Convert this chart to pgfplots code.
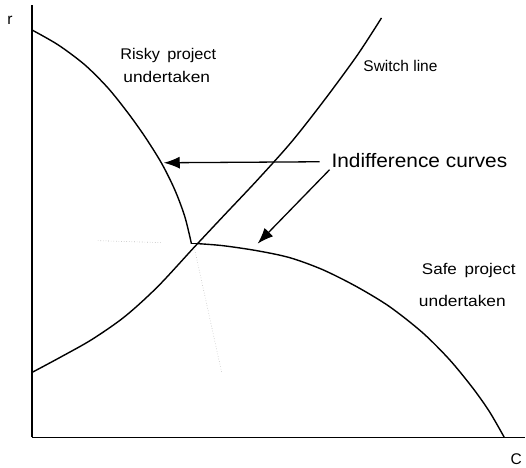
\documentclass[border=0pt]{standalone}
\usepackage{pgfplots}
\pgfplotsset{compat=1.18}
\usepackage{graphicx}
\usepackage{fontspec}
\setmainfont{Liberation Sans}
\usetikzlibrary{arrows.meta}
\begin{document}
\begin{tikzpicture}
\begin{axis}[
  scale only axis, width=494pt, height=433pt,
  xmin=32, xmax=526, ymin=30, ymax=463,
  axis lines=left, axis line style={-, line width=1.5pt},
  xtick=\empty, ytick=\empty, clip=false,
]
% bounding region
\path (axis cs:0,0) rectangle (axis cs:526,468);
% risky indifference curve
\addplot[black, line width=1.4pt, smooth, tension=0.5] coordinates {
 (32,438) (58.3,423) (85,403) (108.3,379.7) (128.3,354.7) (145,331.3) (161.7,304.7) (175,278) (185,251.3) (191.7,224)};
\addplot[black, line width=1.4pt] coordinates {(191.7,224) (198,224)};
% safe indifference curve
\addplot[black, line width=1.4pt, smooth, tension=0.5] coordinates {
 (198,224) (223,222) (257,217) (290,210) (323,198) (357,181) (390,161) (423,135) (450,108) (473,80) (490,56) (505,30)};
% switch line
\addplot[black, line width=1.4pt, smooth, tension=0.5] coordinates {
 (32,95) (60,110) (92,128) (125,151) (158,181) (195,221) (225,253) (258,288) (292,326) (325,368) (358,413) (382,450)};
% faint dotted lines
\addplot[gray!60, dotted, line width=0.6pt] coordinates {(98,227) (162,225)};
\addplot[gray!50, dotted, line width=0.6pt] coordinates {(195,218) (222,95)};
% arrows
\addplot[black, line width=1.3pt, -{Latex[length=16pt,width=12pt]}] coordinates {(320,306) (164,305)};
\addplot[black, line width=1.3pt, -{Latex[length=16pt,width=12pt]}] coordinates {(330,298) (258,224)};
% labels
\node[anchor=base] at (axis cs:168.5,408) {\fontsize{15.5}{18}\selectfont\scalebox{1.05}[1]{Risky\hspace{0.45em}project}};
\node[anchor=base] at (axis cs:167,385) {\fontsize{15.5}{18}\selectfont\scalebox{1.12}[1]{undertaken}};
\node[anchor=base] at (axis cs:401,396) {\fontsize{15.5}{18}\selectfont Switch line};
\node[anchor=base] at (axis cs:420,300) {\fontsize{19.5}{22}\selectfont\scalebox{1.07}[1]{Indifference curves}};
\node[anchor=base] at (axis cs:469.5,193) {\fontsize{15.5}{18}\selectfont\scalebox{1.1}[1]{Safe\hspace{0.45em}project}};
\node[anchor=base] at (axis cs:463,161) {\fontsize{15.5}{18}\selectfont\scalebox{1.12}[1]{undertaken}};
\node[anchor=base] at (axis cs:10,443) {\fontsize{15.5}{18}\selectfont r};
\node[anchor=base] at (axis cs:517,3) {\fontsize{15.5}{18}\selectfont C};
\end{axis}
\end{tikzpicture}
\end{document}
